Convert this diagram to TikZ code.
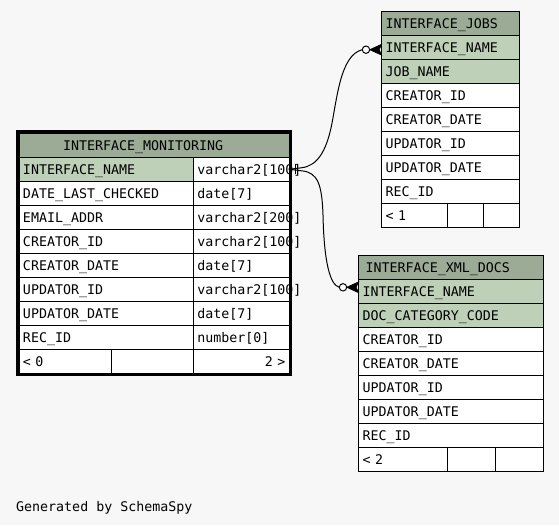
\documentclass[tikz,border=0pt]{standalone}
\usepackage{fontspec}
\usepackage{tikz}
\usetikzlibrary{positioning}
\newfontfamily\ermono{DejaVu Sans Mono}[HyphenChar=None]
\newcommand\erfont{\ermono\fontsize{13.3}{15}\selectfont}
\definecolor{erback}{HTML}{F7F7F7}
\definecolor{erhead}{HTML}{9BAB96}
\definecolor{erkey}{HTML}{BED1B8}
\tikzset{
  cell/.style={draw,line width=1pt,fill=white,anchor=north west,outer sep=0pt,
    inner xsep=4pt,inner ysep=0pt,minimum height=24pt,text width=#1pt,
    text height=9.7pt,text depth=0pt,align=left,font=\erfont},
  odot/.style={circle,draw,line width=1pt,fill=white,inner sep=0pt,outer sep=0pt,minimum size=7.4pt},
  link/.style={draw,line width=1pt},
}

\begin{document}
\begin{tikzpicture}[x=1pt,y=-1pt]
  \fill[erback] (0,0) rectangle (559,525);
  \useasboundingbox (0,0) rectangle (559,525);

  \node[cell=182.3,inner xsep=44pt,fill=erhead] (mon-h) at (19,133.3) {INTERFACE\_MONITORING};
  \foreach \cn/\ct/\cc [count=\i] in {INTERFACE\_NAME/varchar2[100]/erkey,DATE\_LAST\_CHECKED/date[7]/white,
      EMAIL\_ADDR/varchar2[200]/white,CREATOR\_ID/varchar2[100]/white,CREATOR\_DATE/date[7]/white,
      UPDATOR\_ID/varchar2[100]/white,UPDATOR\_DATE/date[7]/white,REC\_ID/number[0]/white}{
    \node[cell=166.3,fill=\cc] (mon-\i-n) at (19,{157.3+24*(\i-1)}) {\cn};
    \node[cell=88] (mon-\i-t) at (mon-\i-n.north east) {\ct};
  }
  \node[cell=84.7] (mon-f1) at (19,349.3) {< 0};
  \node[cell=73.6] (mon-f2) at (mon-f1.north east) {};
  \node[cell=88,align=right] (mon-f3) at (mon-f2.north east) {2 >};
  \draw[line width=3pt] ([shift={(-1.5,-1.5)}]mon-h.north west) rectangle ([shift={(1.5,1.5)}]mon-f3.south east);

  \node[cell=129.6,fill=erhead] (jobs-h) at (381.7,11.7) {INTERFACE\_JOBS};
  \foreach \cn/\cc [count=\i] in {INTERFACE\_NAME/erkey,JOB\_NAME/erkey,CREATOR\_ID/white,
      CREATOR\_DATE/white,UPDATOR\_ID/white,UPDATOR\_DATE/white,REC\_ID/white}
    \node[cell=129.6,fill=\cc] (jobs-\i) at (381.7,{35.7+24*(\i-1)}) {\cn};
  \node[cell=58] (jobs-f1) at (381.7,203.7) {< 1};
  \node[cell=27.6] (jobs-f2) at (jobs-f1.north east) {};
  \node[cell=28] (jobs-f3) at (jobs-f2.north east) {};

  \node[cell=170.6,inner xsep=7pt,fill=erhead] (xml-h) at (358.7,255.3) {INTERFACE\_XML\_DOCS};
  \foreach \cn/\cc [count=\i] in {INTERFACE\_NAME/erkey,DOC\_CATEGORY\_CODE/erkey,CREATOR\_ID/white,
      CREATOR\_DATE/white,UPDATOR\_ID/white,UPDATOR\_DATE/white,REC\_ID/white}
    \node[cell=176.6,fill=\cc] (xml-\i) at (358.7,{279.3+24*(\i-1)}) {\cn};
  \node[cell=81] (xml-f1) at (358.7,447.3) {< 2};
  \node[cell=40] (xml-f2) at (xml-f1.north east) {};
  \node[cell=39.6] (xml-f3) at (xml-f2.north east) {};

  \node[anchor=base west,font=\erfont,inner sep=0pt] (credit) at (16,511) {Generated by SchemaSpy};

  \coordinate (jobs-in) at ([yshift=-2pt]jobs-1.west);
  \coordinate (xml-in) at ([yshift=4pt]xml-1.west);
  \node[odot,left=12pt of jobs-in] (jobs-o) {};
  \node[odot,left=12pt of xml-in] (xml-o) {};
  \draw[link] (mon-1-t.east) -- ++(12,-1.5) .. controls (318,166) and (326,150) .. (331,128)
    .. controls (337,100) and (340,55) .. (jobs-o.west);
  \draw[link] (mon-1-t.east) -- ++(12,1.5) .. controls (318,172) and (322,185) .. (323,215)
    .. controls (324,262) and (330,285) .. (xml-o.west);
  \draw[link] ([xshift=6pt,yshift=5pt]mon-1-t.east) -- ([xshift=6pt,yshift=-5pt]mon-1-t.east);
  \filldraw[line width=0.6pt] (jobs-o.east) -- ([yshift=5.5pt]jobs-in) -- ([xshift=-2.5pt]jobs-in)
    -- ([yshift=-5.5pt]jobs-in) -- cycle;
  \filldraw[line width=0.6pt] (xml-o.east) -- ([yshift=5.5pt]xml-in) -- ([xshift=-2.5pt]xml-in)
    -- ([yshift=-5.5pt]xml-in) -- cycle;
\end{tikzpicture}
\end{document}
